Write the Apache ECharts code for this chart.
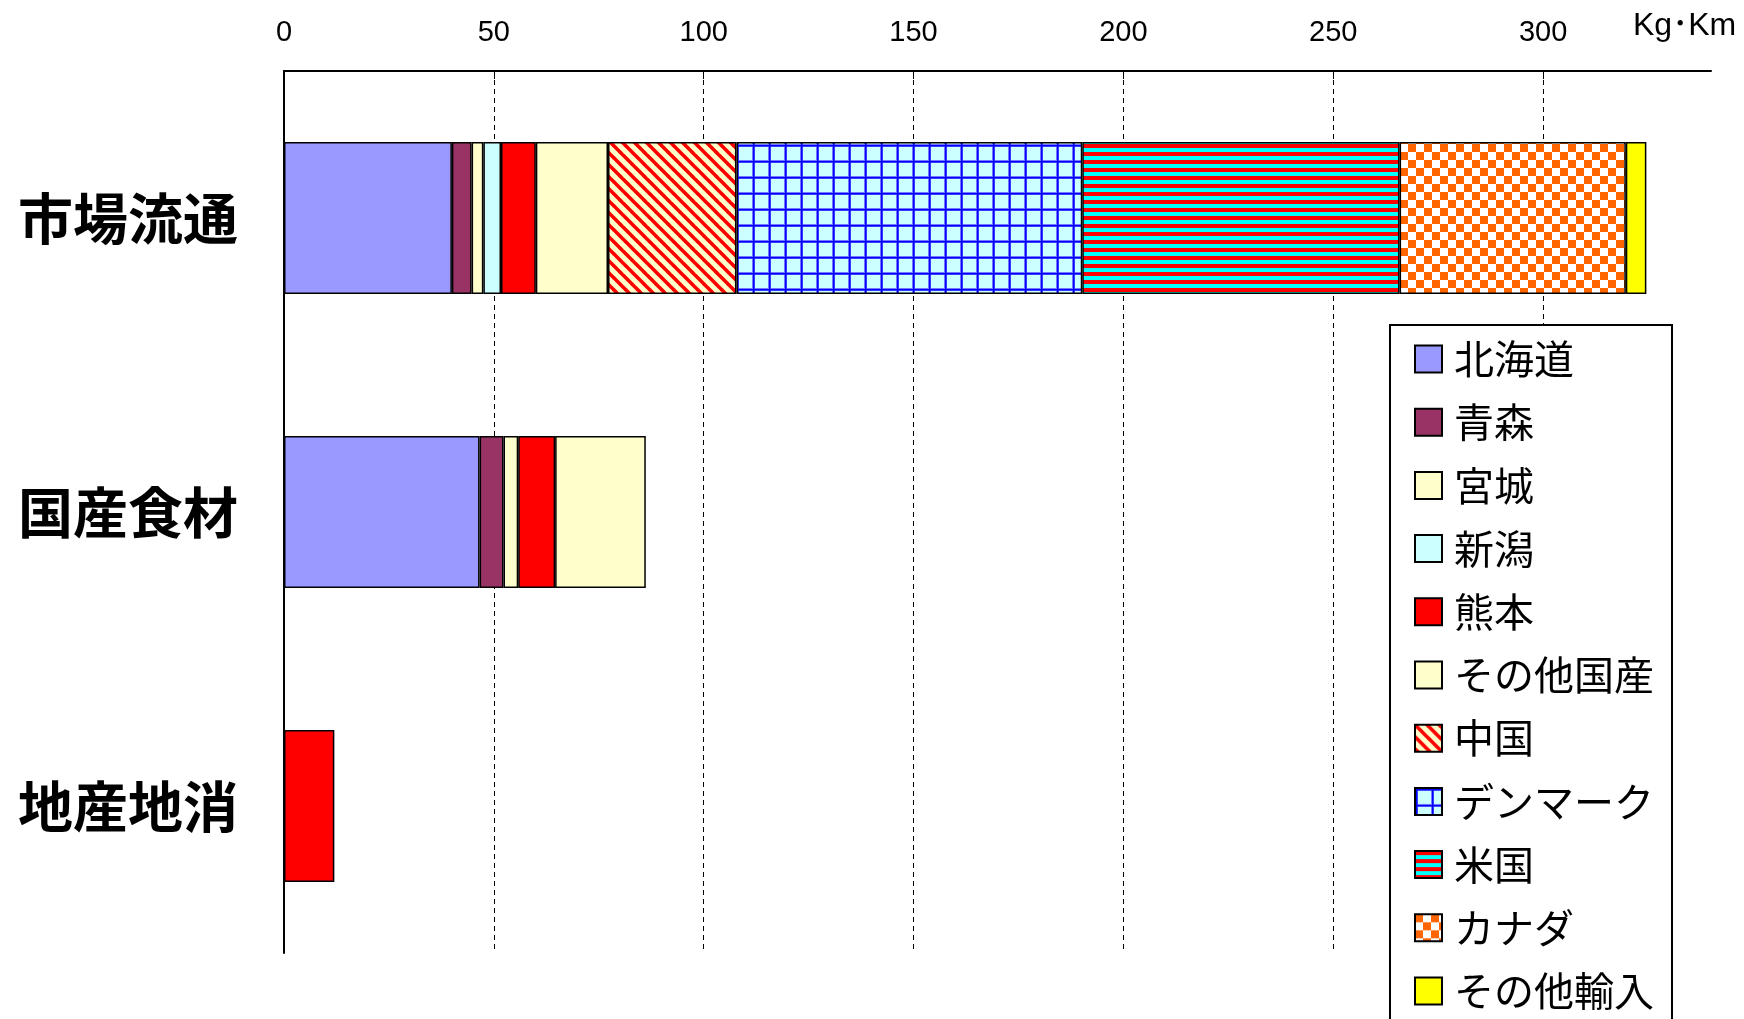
<!DOCTYPE html>
<html lang="ja">
<head>
<meta charset="utf-8">
<title>フードマイレージ比較</title>
<script src="https://cdn.jsdelivr.net/npm/echarts@6/dist/echarts.min.js"></script>
<style>
  html, body { margin: 0; padding: 0; background: #ffffff; }
  #chart { width: 1744px; height: 1019px; }
</style>
</head>
<body>
<div id="chart"></div>
<script>
// Categories (top to bottom)
const categories = ['市場流通', '国産食材', '地産地消'];

// Kg・Km per origin, one entry per category (null = not present)
const hokkaido   = [40.0, 46.6, null];
const aomori     = [4.7, 5.7, null];
const miyagi     = [2.8, 3.5, null];
const niigata    = [4.2, null, null];
const kumamoto   = [8.3, 8.8, 12.0];
const otherJapan = [17.2, 21.6, null];
const china      = [30.6, null, null];
const denmark    = [82.4, null, null];
const usa        = [75.6, null, null];
const canada     = [53.9, null, null];
const otherImport = [4.9, null, null];

// Axis ticks
const tickValues = [0, 50, 100, 150, 200, 250, 300];
const axisMax = 340;
const unitLabel = 'Kg･Km';

// ---- fill patterns ----
function makeTile(w, h, draw) {
  const c = document.createElement('canvas');
  c.width = w; c.height = h;
  draw(c.getContext('2d'), w, h);
  return { image: c, repeat: 'repeat' };
}

// red diagonal hatching on cream
const hatchRed = makeTile(12, 12, (g, w, h) => {
  g.fillStyle = '#FFFFCC';
  g.fillRect(0, 0, w, h);
  g.strokeStyle = '#FF0000';
  g.lineWidth = 3.6;
  for (const off of [-w, 0, w]) {
    g.beginPath();
    g.moveTo(off - 2, -2);
    g.lineTo(off + w + 2, h + 2);
    g.stroke();
  }
});

// blue grid on light cyan
const gridBlue = makeTile(16, 16, (g, w, h) => {
  g.fillStyle = '#CCFFFF';
  g.fillRect(0, 0, w, h);
  g.fillStyle = '#7777ff';
  g.fillRect(0, 0, 3, h);
  g.fillRect(0, 0, w, 3);
  g.fillStyle = '#0000FF';
  g.fillRect(1, 0, 1.5, h);
  g.fillRect(0, 1, w, 1.5);
});

// horizontal red / cyan stripes
const stripesRC = makeTile(8, 8, (g, w, h) => {
  g.fillStyle = '#00FFFF';
  g.fillRect(0, 0, w, h);
  g.fillStyle = '#FF0000';
  g.fillRect(0, 0, w, 4);
});

// orange / white checkerboard
const checkerOrange = makeTile(16, 16, (g, w, h) => {
  g.fillStyle = '#FFFFFF';
  g.fillRect(0, 0, w, h);
  g.fillStyle = '#FF6600';
  g.fillRect(0, 0, 8, 8);
  g.fillRect(8, 8, 8, 8);
});

const seriesDefs = [
  { name: '北海道',     data: hokkaido,    color: '#9999FF' },
  { name: '青森',       data: aomori,      color: '#993366' },
  { name: '宮城',       data: miyagi,      color: '#FFFFCC' },
  { name: '新潟',       data: niigata,     color: '#CCFFFF' },
  { name: '熊本',       data: kumamoto,    color: '#FF0000' },
  { name: 'その他国産', data: otherJapan,  color: '#FFFFCC' },
  { name: '中国',       data: china,       color: hatchRed },
  { name: 'デンマーク', data: denmark,     color: gridBlue },
  { name: '米国',       data: usa,         color: stripesRC },
  { name: 'カナダ',     data: canada,      color: checkerOrange },
  { name: 'その他輸入', data: otherImport, color: '#FFFF00' }
];

const chart = echarts.init(document.getElementById('chart'), null, { renderer: 'canvas' });

chart.setOption({
  backgroundColor: '#ffffff',
  animation: false,
  title: {
    text: unitLabel,
    left: 1628,
    top: 5,
    textStyle: {
      fontFamily: "'Liberation Sans', 'Noto Sans CJK JP', sans-serif",
      fontSize: 32,
      fontWeight: 'normal',
      color: '#000'
    }
  },
  grid: {
    left: 284,
    right: 33,
    top: 71,
    bottom: 66,
    containLabel: false
  },
  legend: {
    orient: 'vertical',
    left: 1390,
    top: 325,
    height: 900,
    padding: [14, 18, 10, 24],
    itemWidth: 27,
    itemHeight: 27,
    itemGap: 23.2,
    icon: 'rect',
    selectedMode: false,
    borderColor: '#000',
    borderWidth: 2,
    backgroundColor: '#fff',
    textStyle: {
      fontFamily: "'Noto Sans CJK JP', sans-serif",
      fontSize: 40,
      lineHeight: 40,
      color: '#000',
      padding: [0, 0, 0, 7]
    },
    data: seriesDefs.map(s => s.name)
  },
  xAxis: {
    type: 'value',
    position: 'top',
    min: 0,
    max: axisMax,
    interval: 50,
    axisLine: { show: true, lineStyle: { color: '#000', width: 2 } },
    axisTick: {
      show: true,
      inside: true,
      length: 8,
      customValues: tickValues,
      lineStyle: { color: '#000', width: 1 }
    },
    axisLabel: {
      customValues: tickValues,
      margin: 24,
      fontFamily: "'Liberation Sans', sans-serif",
      fontSize: 29,
      color: '#000'
    },
    splitLine: {
      show: true,
      lineStyle: { color: '#000', width: 1, type: [5, 4] }
    }
  },
  yAxis: {
    type: 'category',
    data: categories,
    inverse: true,
    axisLine: { show: true, onZero: false, lineStyle: { color: '#000', width: 2 } },
    axisTick: { show: false },
    axisLabel: {
      margin: 46,
      fontFamily: "'Noto Sans CJK JP', sans-serif",
      fontWeight: 'bold',
      fontSize: 55,
      color: '#000'
    }
  },
  series: seriesDefs.map(s => ({
    name: s.name,
    type: 'bar',
    stack: 'total',
    barWidth: 152,
    data: s.data,
    itemStyle: {
      color: s.color,
      borderColor: '#000',
      borderWidth: 1.5
    },
    emphasis: { disabled: true }
  }))
});
</script>
</body>
</html>
